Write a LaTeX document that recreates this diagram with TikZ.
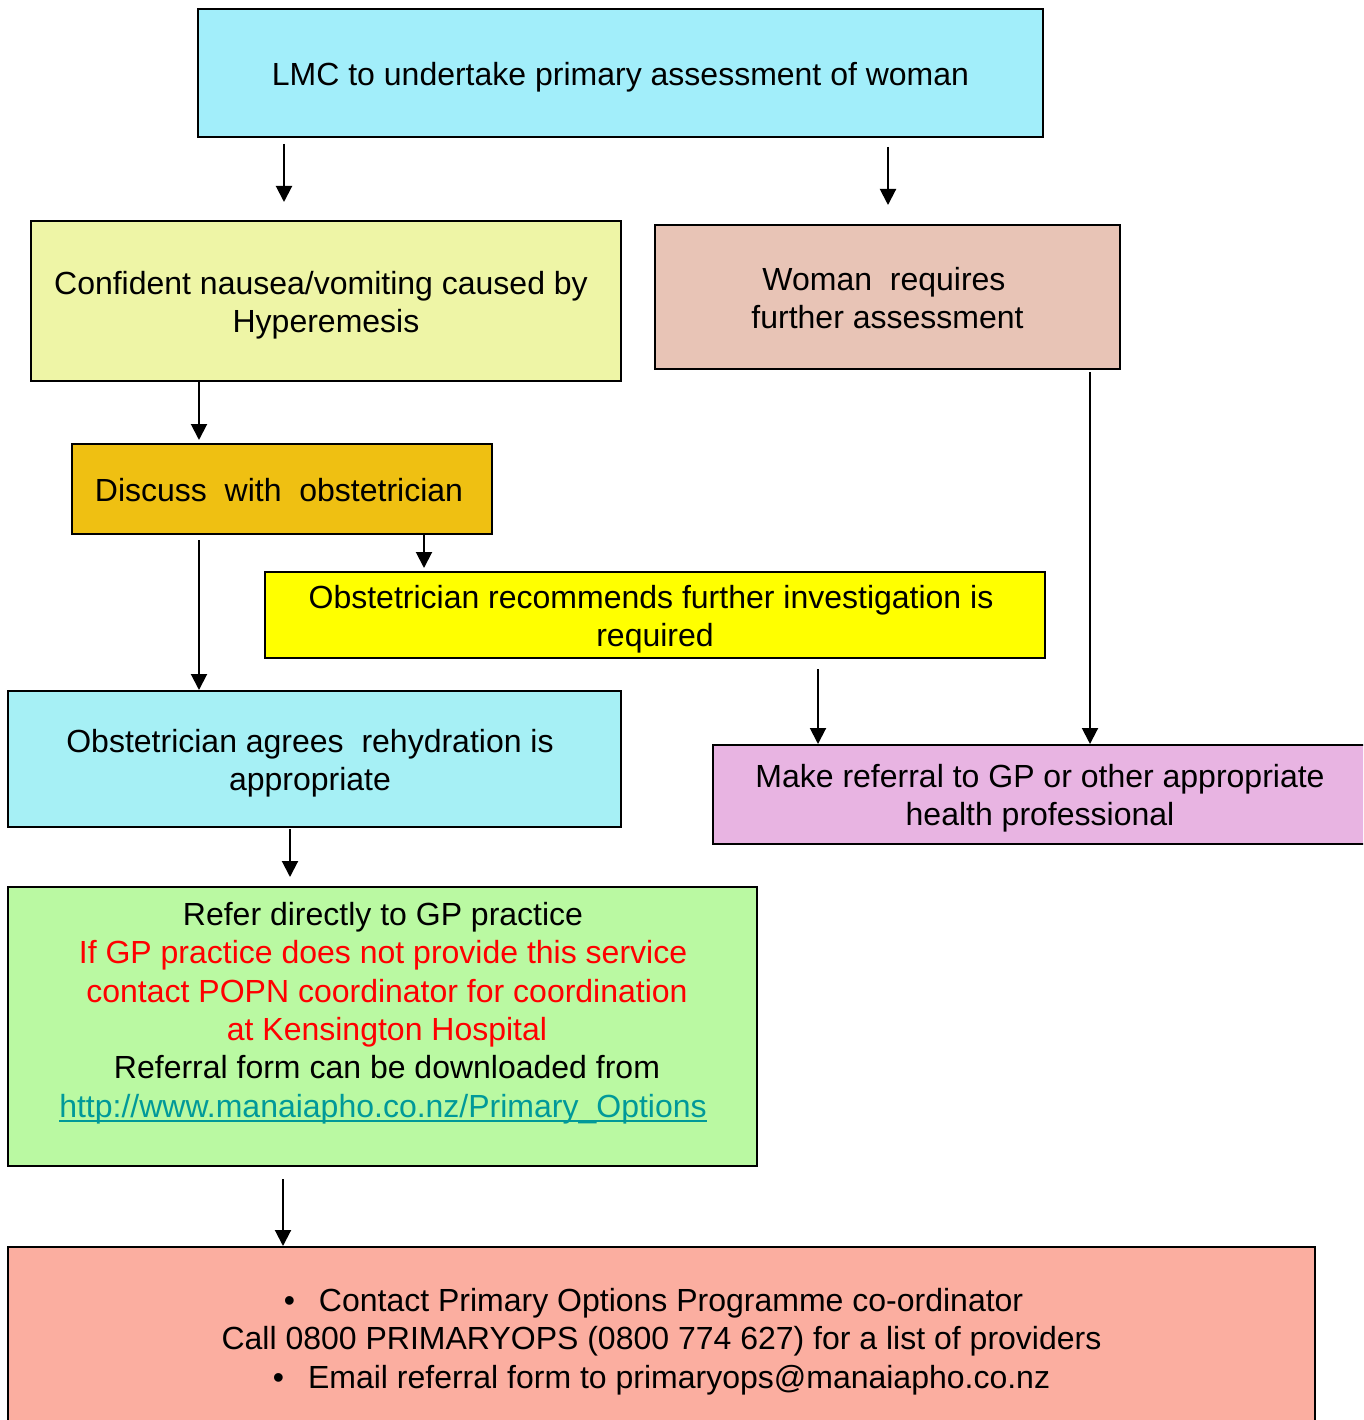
\documentclass[tikz,border=0pt]{standalone}
\usepackage{fontspec}
\setmainfont{Liberation Sans}
\usetikzlibrary{arrows.meta}
\definecolor{cTop}{RGB}{162,238,250}
\definecolor{cConf}{RGB}{238,245,166}
\definecolor{cWoman}{RGB}{232,196,182}
\definecolor{cDisc}{RGB}{239,192,18}
\definecolor{cRecom}{RGB}{255,255,0}
\definecolor{cAgree}{RGB}{166,240,245}
\definecolor{cRefer}{RGB}{232,180,226}
\definecolor{cGP}{RGB}{186,249,162}
\definecolor{cContact}{RGB}{251,174,160}
\definecolor{cLink}{RGB}{0,153,153}
\definecolor{cRed}{RGB}{255,0,0}
\newcommand\linkul[1]{\setbox0\hbox{#1}\rlap{\rule[-5pt]{\wd0}{2.4pt}}\box0}
\begin{document}
\begin{tikzpicture}[x=1pt,y=-1pt,
  font=\fontsize{32}{38.4}\selectfont,
  box/.style={draw=black, line width=2pt, inner sep=0pt},
  txt/.style={align=center, inner sep=0pt},
  arr/.style={line width=2pt, -{Triangle[width=16pt,length=16pt]}}]
\useasboundingbox (0,0) rectangle (1363,1420);
\clip (0,0) rectangle (1363,1420);
% boxes
\node[box, fill=cTop, minimum width=845pt, minimum height=128pt] (top) at (620.5,73) {};
\node[box, fill=cConf, minimum width=590pt, minimum height=160pt] (conf) at (326,301) {};
\node[box, fill=cWoman, minimum width=465pt, minimum height=144pt] (woman) at (887.5,297) {};
\node[box, fill=cDisc, minimum width=420pt, minimum height=90pt] (disc) at (282,489) {};
\node[box, fill=cRecom, minimum width=780pt, minimum height=86pt] (recom) at (655,615) {};
\node[box, fill=cAgree, minimum width=613pt, minimum height=136pt] (agree) at (314.5,759) {};
\node[box, fill=cRefer, minimum width=654pt, minimum height=99pt] (refer) at (1040,794.5) {};
\node[box, fill=cGP, minimum width=749pt, minimum height=279pt] (gp) at (382.5,1026.5) {};
\node[box, fill=cContact, minimum width=1307pt, minimum height=183pt] (contact) at (661.5,1338.5) {};
% texts
\node[txt] (topt) at ([yshift=-4pt]top.center)
  {LMC to undertake primary assessment of woman};
\node[txt] (conft) at ([yshift=-4pt]conf.center)
  {Confident nausea/vomiting caused by\hspace*{10pt}\\Hyperemesis};
\node[txt] (womant) at ([yshift=-1pt]woman.center)
  {Woman\ \ requires\hspace*{7pt}\\further assessment};
\node[txt] (disct) at ([xshift=-3pt,yshift=-1pt]disc.center)
  {Discuss\ \ with\ \ obstetrician};
\node[txt] (recomt) at ([yshift=-4pt]recom.center)
  {Obstetrician recommends further investigation is\hspace*{8pt}\\required};
\node[txt] (agreet) at ([xshift=-4.5pt,yshift=-4pt]agree.center)
  {Obstetrician agrees\ \ rehydration is\\appropriate};
\node[txt] (refert) at ([yshift=-4pt]refer.center)
  {Make referral to GP or other appropriate\\health professional};
\node[txt] (gpt) at (383,1013)
  {Refer directly to GP practice\\
   \textcolor{cRed}{If GP practice does not provide this service}\\
   \hspace*{8pt}\textcolor{cRed}{contact POPN coordinator for coordination}\\
   \hspace*{8pt}\textcolor{cRed}{at Kensington Hospital}\\
   \hspace*{8pt}Referral form can be downloaded from\\
   \textcolor{cLink}{\linkul{http://www.manaiapho.co.nz/Primary\_Options}}};
\node[txt] (contactt) at ([yshift=-3pt]contact.center)
  {\textbullet\hspace{0.75em}Contact Primary Options Programme co-ordinator\hspace*{16pt}\\
   Call 0800 PRIMARYOPS (0800 774 627) for a list of providers\\
   \textbullet\hspace{0.75em}Email referral form to primaryops@manaiapho.co.nz};
% connectors
\coordinate (s1) at (284,144);
\draw[arr, shorten >=18pt] (s1) -- (s1 |- conf.north);
\coordinate (s2) at (888,147);
\draw[arr, shorten >=19pt] (s2) -- (s2 |- woman.north);
\coordinate (s3) at (199,382);
\draw[arr, shorten >=3pt] (s3) -- (s3 |- disc.north);
\coordinate (s4) at (424,535);
\draw[arr, shorten >=3pt] (s4) -- (s4 |- recom.north);
\coordinate (s5) at (199,540);
\draw[arr] (s5) -- (s5 |- agree.north);
\coordinate (s6) at (1090,372);
\draw[arr] (s6) -- (s6 |- refer.north);
\coordinate (s7) at (818,669);
\draw[arr] (s7) -- (s7 |- refer.north);
\coordinate (s8) at (290,829);
\draw[arr, shorten >=9pt] (s8) -- (s8 |- gp.north);
\coordinate (s9) at (283,1179);
\draw[arr] (s9) -- (s9 |- contact.north);
\end{tikzpicture}
\end{document}
